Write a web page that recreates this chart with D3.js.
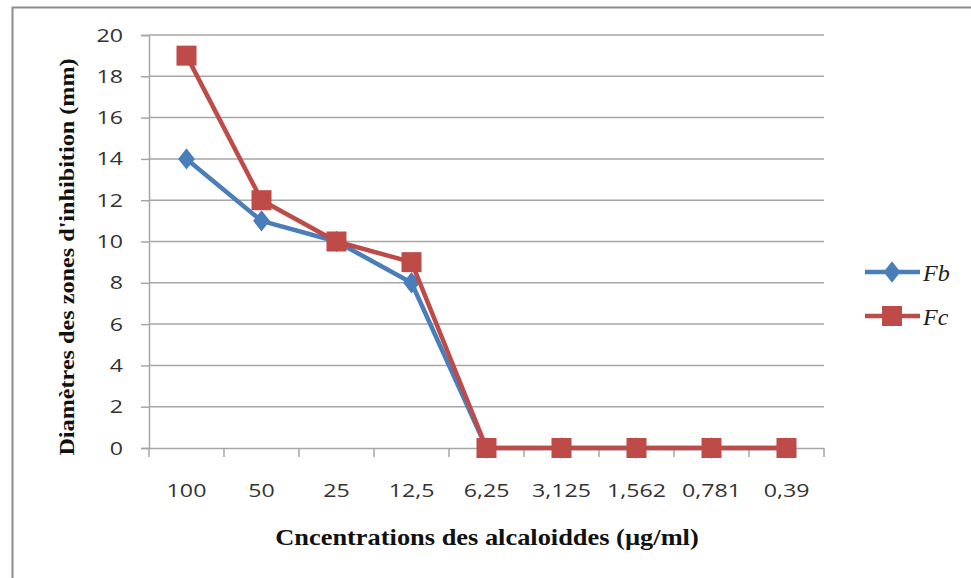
<!DOCTYPE html>
<html><head><meta charset="utf-8">
<script src="https://cdn.jsdelivr.net/npm/d3@7"></script>
<style>body{margin:0;background:#fff}svg{display:block}</style>
</head><body><svg id="c" width="971" height="578"></svg>
<script>
const categories = ["100","50","25","12,5","6,25","3,125","1,562","0,781","0,39"];
const fbValues = [14, 11, 10, 8, 0, 0, 0, 0, 0];
const fcValues = [19, 12, 10, 9, 0, 0, 0, 0, 0];
const yTicks = [0,2,4,6,8,10,12,14,16,18,20];
const seriesNames = ["Fb","Fc"];

const svg = d3.select("#c");
// outer frame
svg.append("rect").attr("x",12.5).attr("y",7.5).attr("width",975).attr("height",590)
  .attr("fill","none").attr("stroke","#8c8c8c").attr("stroke-width",2);

const x = d3.scaleBand().domain(categories).range([149,824]);
const y = d3.scaleLinear().domain([0,20]).range([448,35]);
const SX = 1.22;

const grid = svg.append("g");
grid.selectAll("line").data(yTicks.filter(d=>d>0)).join("line")
  .attr("x1",149).attr("x2",824).attr("y1",d=>y(d)).attr("y2",d=>y(d))
  .attr("stroke","#a6a6a6").attr("stroke-width",1.5);

const yAxis = svg.append("g").attr("transform","translate(149,0)")
  .call(d3.axisLeft(y).tickValues(yTicks).tickSize(8).tickPadding(10));
yAxis.select(".domain").attr("stroke","#a6a6a6").attr("stroke-width",1.5);
yAxis.selectAll(".tick line").attr("stroke","#a6a6a6").attr("stroke-width",1.5);
yAxis.selectAll("text").attr("font-family","'Open Sans', sans-serif").attr("font-size",19).attr("fill","#333")
  .attr("x",-26/SX).attr("transform",`scale(${SX},1)`);

const xAxis = svg.append("g").attr("transform","translate(0,448)")
  .call(d3.axisBottom(x).tickSize(0).tickPadding(30));
xAxis.select(".domain").attr("stroke","#a6a6a6").attr("stroke-width",1.5);
xAxis.selectAll("text").attr("font-family","'Open Sans', sans-serif").attr("font-size",19).attr("fill","#333")
  .attr("y",49).attr("dy",0).attr("transform",`scale(${SX},1)`);
// category boundary ticks
svg.append("g").selectAll("line").data(d3.range(categories.length+1)).join("line")
  .attr("x1",i=>149+i*x.step()).attr("x2",i=>149+i*x.step())
  .attr("y1",448).attr("y2",457).attr("stroke","#a6a6a6").attr("stroke-width",1.5);

const cx = d=>x(d)+x.bandwidth()/2;
const line = d3.line().x(d=>cx(d[0])).y(d=>y(d[1]));
const blue = "#4a7ebb", red = "#be4b48";

const fbData = categories.map((c,i)=>[c,fbValues[i]]);
const fcData = categories.map((c,i)=>[c,fcValues[i]]);

svg.append("path").datum(fbData).attr("d",line).attr("fill","none").attr("stroke",blue).attr("stroke-width",4.5).attr("stroke-linejoin","round");
svg.append("g").selectAll("path").data(fbData).join("path")
  .attr("d",d3.symbol(d3.symbolDiamond,170)).attr("transform",d=>`translate(${cx(d[0])},${y(d[1])}) scale(1.2,0.88)`).attr("fill",blue);

svg.append("path").datum(fcData).attr("d",line).attr("fill","none").attr("stroke",red).attr("stroke-width",4.5).attr("stroke-linejoin","round");
svg.append("g").selectAll("rect").data(fcData).join("rect")
  .attr("x",d=>cx(d[0])-10).attr("y",d=>y(d[1])-10).attr("width",20).attr("height",20).attr("fill",red);

// legend
const leg = svg.append("g");
[[seriesNames[0],272,blue,"d"],[seriesNames[1],316,red,"s"]].forEach(([n,ly,col,m])=>{
  leg.append("line").attr("x1",865).attr("x2",920).attr("y1",ly).attr("y2",ly).attr("stroke",col).attr("stroke-width",4.5);
  if(m==="d") leg.append("path").attr("d",d3.symbol(d3.symbolDiamond,170)).attr("transform",`translate(892,${ly}) scale(1.2,0.88)`).attr("fill",col);
  else leg.append("rect").attr("x",882).attr("y",ly-10).attr("width",20).attr("height",20).attr("fill",col);
  leg.append("text").attr("x",923).attr("y",ly+9).text(n).attr("font-family","'Liberation Serif', serif")
    .attr("font-style","italic").attr("font-size",24).attr("fill","#222");
});

svg.append("text").attr("transform","translate(487,545) scale(1.1,1)").attr("text-anchor","middle")
  .attr("font-family","'Liberation Serif', serif").attr("font-weight","bold").attr("font-size",24).attr("fill","#111")
  .text("Cncentrations des alcaloiddes (µg/ml)");
svg.append("text").attr("transform","translate(74,257) rotate(-90) scale(1.1,1)").attr("text-anchor","middle")
  .attr("font-family","'Liberation Serif', serif").attr("font-weight","bold").attr("font-size",22).attr("fill","#111")
  .text("Diamètres des zones d'inhibition (mm)");
</script></body></html>
